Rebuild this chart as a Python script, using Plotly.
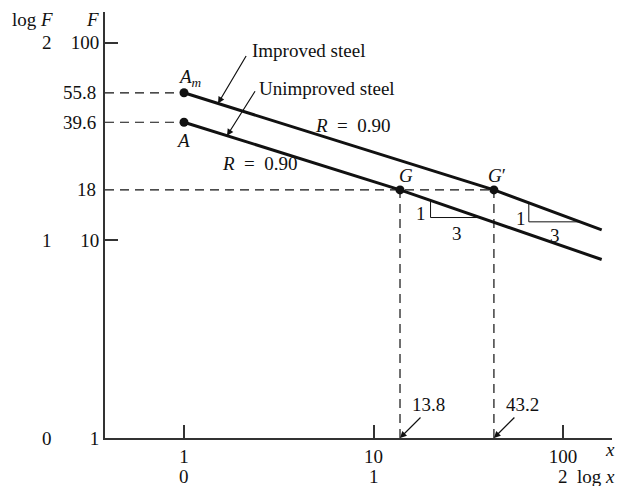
import numpy as np
import plotly.graph_objects as go

# ---------------- data ----------------
unimproved_x = [1, 13.8, 160]
unimproved_F = [39.6, 18, 8.0]
improved_x = [1, 43.2, 160]
improved_F = [55.8, 18, 11.3]

point_x = [1, 1, 13.8, 43.2]
point_F = [39.6, 55.8, 18, 18]

x_tickvals = [1, 10, 100]
x_ticktext = ["1", "10", "100"]
x_logtext = ["0", "1", "2"]
y_tickvals = [1, 10, 100]
y_ticktext = ["1", "10", "100"]
y_logtext = ["0", "1", "2"]
y_marked = [18, 39.6, 55.8]
y_marked_text = ["18", "39.6", "55.8"]
x_marked = [13.8, 43.2]
x_marked_text = ["13.8", "43.2"]

# slope triangles: (x start, x end) along each line
tri_unimproved = (20, 36.5)
tri_improved = (66, 123)

# ---------------- geometry ----------------
OFF = 8                      # page body margin
W, H = 626 - OFF, 486 - OFF
PL, PR, PT, PB = 105, 612, 12, 438   # plot area in screen pixels
L, T = PL - OFF, PT - OFF
R, B = W - (PR - OFF), H - (PB - OFF)
XR = [-0.4169, 2.2586]
YR = [0.0, 2.1554]
FONT = "Liberation Serif"
FS = 19
INK = "#111"
SP = "\u2002"


def xp(px):
    return (px - PL) / (PR - PL)


def yp(py):
    return (PB - py) / (PB - PT)


def lx(px):
    return XR[0] + xp(px) * (XR[1] - XR[0])


def f_on(xs, Fs, x):
    return 10 ** np.interp(np.log10(x), np.log10(xs), np.log10(Fs))


fig = go.Figure()

dash = dict(color=INK, width=1.2, dash="9px,6px")
xleft = 10 ** XR[0]
for Fv, xe in [(55.8, 1), (39.6, 1), (18, 43.2)]:
    fig.add_trace(go.Scatter(x=[xleft, xe], y=[Fv, Fv], mode="lines", line=dash, hoverinfo="skip"))
for xv in x_marked:
    fig.add_trace(go.Scatter(x=[xv, xv], y=[1, 18], mode="lines", line=dash, hoverinfo="skip"))

fig.add_trace(go.Scatter(x=improved_x, y=improved_F, mode="lines", line=dict(color=INK, width=3)))
fig.add_trace(go.Scatter(x=unimproved_x, y=unimproved_F, mode="lines", line=dict(color=INK, width=3)))

for (x0, x1), xs, Fs in [(tri_unimproved, unimproved_x, unimproved_F), (tri_improved, improved_x, improved_F)]:
    fig.add_trace(go.Scatter(x=[x0, x0, x1], y=[f_on(xs, Fs, x0), f_on(xs, Fs, x1), f_on(xs, Fs, x1)],
                             mode="lines", line=dict(color=INK, width=1)))

fig.add_trace(go.Scatter(x=point_x, y=point_F, mode="markers", marker=dict(color=INK, size=9)))

ann = []


def txt(text, px, py, xanchor="center"):
    ann.append(dict(text=text, x=xp(px), y=yp(py), xref="paper", yref="paper", showarrow=False,
                    xanchor=xanchor, yanchor="middle", font=dict(family=FONT, size=FS, color=INK)))


def arrow(xh, yh, ax, ay):
    ann.append(dict(text="", x=xh, y=yh, xref="x", yref="y", ax=ax, ay=ay, axref="pixel", ayref="pixel",
                    showarrow=True, arrowhead=2, arrowsize=1.1, arrowwidth=1.2, arrowcolor=INK))


for v, t in zip(y_marked, y_marked_text):
    ann.append(dict(text=t, x=0, xref="paper", y=np.log10(v), yref="y", xanchor="right", yanchor="middle",
                    xshift=-7, showarrow=False, font=dict(family=FONT, size=FS, color=INK)))
for v, t in zip(y_tickvals, y_logtext):
    ann.append(dict(text=t, x=0, xref="paper", y=np.log10(v), yref="y", xanchor="center", yanchor="middle",
                    xshift=-58, showarrow=False, font=dict(family=FONT, size=FS, color=INK)))
for v, t in zip(x_tickvals, x_logtext):
    ann.append(dict(text=t, x=np.log10(v), xref="x", y=0, yref="paper", xanchor="center", yanchor="middle",
                    yshift=-38, showarrow=False, font=dict(family=FONT, size=FS, color=INK)))

txt("log <i>F</i>", 32, 19)
txt("<i>F</i>", 92, 19)
txt("<i>x</i>", 617, 449, xanchor="right")
txt("log <i>x</i>", 617, 476, xanchor="right")

txt("<i>A</i><sub><i>m</i></sub>", 190, 78)
txt("<i>A</i>", 183, 140)
txt("<i>G</i>", 406, 175)
txt("<i>G</i>′", 497, 175)
txt("<i>R</i>" + SP + "=" + SP + "0.90", 353, 126)
txt("<i>R</i>" + SP + "=" + SP + "0.90", 260, 163)
txt("Improved steel", 250, 51, xanchor="left")
txt("Unimproved steel", 257, 88, xanchor="left")
txt("1", 421, 214)
txt("3", 457, 233)
txt("1", 521, 218)
txt("3", 555, 235)

xa1 = 10 ** lx(218)
arrow(np.log10(xa1), np.log10(f_on(improved_x, improved_F, xa1)), 29, -49)
xa2 = 10 ** lx(227)
arrow(np.log10(xa2), np.log10(f_on(unimproved_x, unimproved_F, xa2)), 29, -46)

for v, t in zip(x_marked, x_marked_text):
    arrow(np.log10(v), 0, 22, -22)
    ann.append(dict(text=t, x=np.log10(v), xref="x", y=0, yref="y", xanchor="left", yanchor="middle",
                    xshift=10, yshift=34, showarrow=False, font=dict(family=FONT, size=FS, color=INK)))

axis_common = dict(type="log", showline=True, linecolor="#333", linewidth=2, ticks="inside", ticklen=13,
                   tickwidth=1.5, tickcolor="#333", showgrid=False, zeroline=False,
                   tickfont=dict(family=FONT, size=FS, color=INK))

fig.update_layout(
    width=W, height=H,
    margin=dict(l=L, r=R, t=T, b=B, pad=0),
    paper_bgcolor="white", plot_bgcolor="white",
    showlegend=False,
    xaxis=dict(range=XR, tickvals=x_tickvals, ticktext=x_ticktext, **axis_common),
    yaxis=dict(range=YR, tickvals=y_tickvals, ticktext=y_ticktext, **axis_common),
    annotations=ann,
)

fig.write_html("out.html")
